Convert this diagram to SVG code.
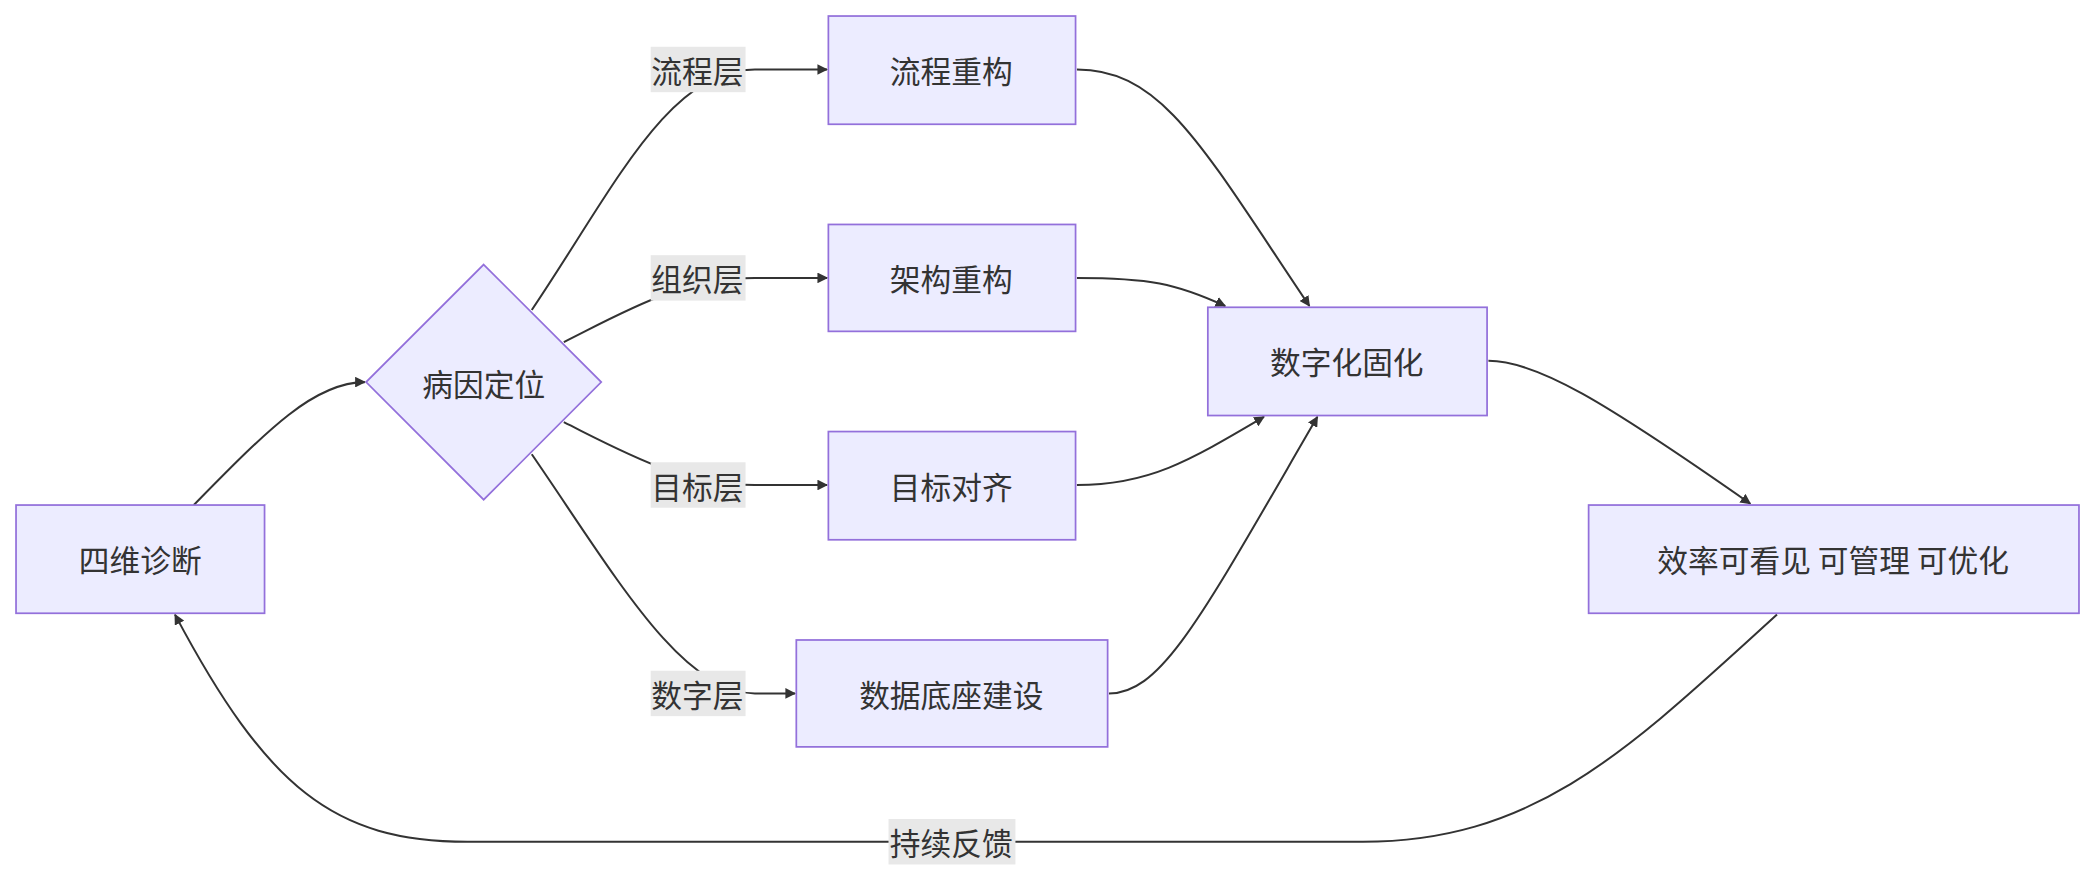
<svg xmlns="http://www.w3.org/2000/svg" width="2095" height="882" viewBox="0 0 2095 882">
<style>
.n{fill:#ececff;stroke:#9370db;stroke-width:1.3}
.t{font-family:"Noto Sans CJK SC","Liberation Sans",sans-serif;font-size:23px;fill:#333;text-anchor:middle;dominant-baseline:central}
.e{fill:none;stroke:#333;stroke-width:1.5}
.lb{fill:#e8e8e8}
</style>
<defs><marker id="a" viewBox="0 0 10 10" refX="9" refY="5" markerWidth="8" markerHeight="8" orient="auto-start-reverse" markerUnits="userSpaceOnUse"><path d="M0,0L10,5L0,10z" fill="#333"/></marker></defs>
<rect width="2095" height="882" fill="#fff"/>
<g transform="scale(1.3361)">
<g id="edges">
<path class="e" marker-end="url(#a)" d="M145,378 C200,322 235,286 273,286"/>
<path class="e" marker-end="url(#a)" d="M398,232 C460,140 500,52 565,52 L619,52"/>
<path class="e" marker-end="url(#a)" d="M422,256 C470,232 510,208 565,208 L619,208"/>
<path class="e" marker-end="url(#a)" d="M422,316 C470,340 510,363 565,363 L619,363"/>
<path class="e" marker-end="url(#a)" d="M398,340 C460,430 510,519 565,519 L595,519"/>
<path class="e" marker-end="url(#a)" d="M806,52 C870,52 900,110 980,229"/>
<path class="e" marker-end="url(#a)" d="M806,208 C860,208 880,212 917,229"/>
<path class="e" marker-end="url(#a)" d="M806,363 C860,363 890,345 946,312"/>
<path class="e" marker-end="url(#a)" d="M830,519 C870,519 900,460 986,312"/>
<path class="e" marker-end="url(#a)" d="M1114,270 C1150,270 1200,300 1310,377"/>
<path class="e" marker-end="url(#a)" d="M1330,460 C1220,560 1150,630 1020,630 L350,630 C250,630 200,590 131,460"/>
<rect class="lb" x="487" y="35" width="71" height="34"/><text class="t" x="522" y="52">流程层</text>
<rect class="lb" x="487" y="191" width="71" height="34"/><text class="t" x="522" y="208">组织层</text>
<rect class="lb" x="487" y="346" width="71" height="34"/><text class="t" x="522" y="363">目标层</text>
<rect class="lb" x="487" y="502" width="71" height="34"/><text class="t" x="522" y="519">数字层</text>
<rect class="lb" x="665" y="613" width="95" height="34"/><text class="t" x="712" y="630">持续反馈</text>
</g>
<g id="n1"><rect class="n" x="12" y="378" width="186" height="81"/><text class="t" x="105" y="418">四维诊断</text></g>
<g id="n2"><path class="n" d="M362,198 L450,286 L362,374 L274,286 Z"/><text class="t" x="362" y="286">病因定位</text></g>
<g id="n3"><rect class="n" x="620" y="12" width="185" height="81"/><text class="t" x="712" y="52">流程重构</text></g>
<g id="n4"><rect class="n" x="620" y="168" width="185" height="80"/><text class="t" x="712" y="208">架构重构</text></g>
<g id="n5"><rect class="n" x="620" y="323" width="185" height="81"/><text class="t" x="712" y="363">目标对齐</text></g>
<g id="n6"><rect class="n" x="596" y="479" width="233" height="80"/><text class="t" x="712" y="519">数据底座建设</text></g>
<g id="n7"><rect class="n" x="904" y="230" width="209" height="81"/><text class="t" x="1008" y="270">数字化固化</text></g>
<g id="n8"><rect class="n" x="1189" y="378" width="367" height="81"/><text class="t" x="1372" y="418">效率可看见 可管理 可优化</text></g>
</g>
</svg>
